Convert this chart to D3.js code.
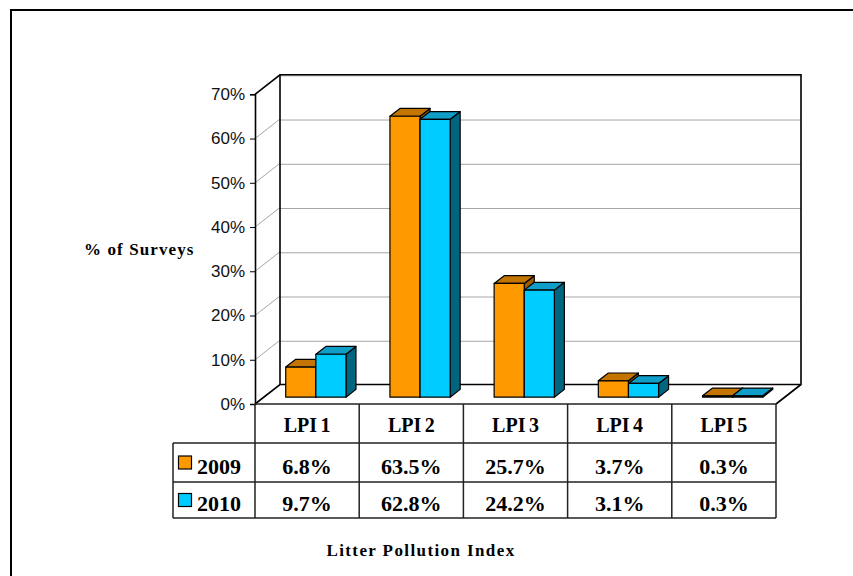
<!DOCTYPE html>
<html>
<head>
<meta charset="utf-8">
<script src="https://cdn.jsdelivr.net/npm/d3@7"></script>
<style>
  body { margin: 0; background: #fff; }
</style>
</head>
<body>
<div class="chart"></div>
<script>
// data
var categories = ['LPI 1', 'LPI 2', 'LPI 3', 'LPI 4', 'LPI 5'];
var seriesNames = ['2009', '2010'];
var values2009 = [6.8, 63.5, 25.7, 3.7, 0.3];
var values2010 = [9.7, 62.8, 24.2, 3.1, 0.3];
var yTicks = [0, 10, 20, 30, 40, 50, 60, 70];

var seriesValues = [values2009, values2010];
var front = ['#ff9900', '#00ccff'];
var topCol = ['#c47400', '#109ec8'];
var sideCol = ['#9c5c00', '#006680'];

var W = 853, H = 576;

// 3d depth of the plot box
var DX = 25, DY = -19.5;
var barF = 0.35, barB = 0.75;   // bar front / back depth fraction

var svg = d3.select('.chart')
  .append('svg')
    .attr('width', W)
    .attr('height', H);

// outer border (cut off at right/bottom)
svg.append('rect')
  .attr('x', 11).attr('y', 10)
  .attr('width', 900).attr('height', 700)
  .style('fill', 'none')
  .style('stroke', '#000')
  .style('stroke-width', 2);

var x0 = d3.scaleBand()
  .domain(categories)
  .range([255, 776]);

var x1 = d3.scaleBand()
  .domain(seriesNames)
  .range([0, x0.bandwidth()])
  .paddingOuter(0.73);

var y = d3.scaleLinear()
  .domain([0, 70])
  .range([404, 94.3]);

var left = x0.range()[0], right = x0.range()[1];

// back wall
svg.append('rect')
  .attr('x', left + DX).attr('y', y(70) + DY)
  .attr('width', right - left).attr('height', y(0) - y(70))
  .style('fill', '#fff');

// gridlines: back wall + side wall
var grid = svg.append('g').style('stroke', '#a6a6a6').style('stroke-width', 1);
grid.selectAll('.gb')
  .data(yTicks.slice(1))
  .enter().append('line')
    .attr('x1', left + DX).attr('x2', right + DX)
    .attr('y1', function(d) { return y(d) + DY + 1; })
    .attr('y2', function(d) { return y(d) + DY + 1; });
grid.selectAll('.gs')
  .data(yTicks.slice(1, -1))
  .enter().append('line')
    .attr('x1', left).attr('x2', left + DX)
    .attr('y1', function(d) { return y(d); })
    .attr('y2', function(d) { return y(d) + DY; });

// wall / floor edges
var edges = svg.append('g').style('stroke', '#000').style('stroke-width', 1.6).style('fill', 'none');
edges.append('path')
  .attr('d', d3.line()([
    [left, y(70)], [left + DX, y(70) + DY], [right + DX, y(70) + DY],
    [right + DX, y(0) + DY], [right, y(0)]
  ]));
edges.append('path')
  .attr('d', d3.line()([
    [left, y(0)], [left + DX, y(0) + DY], [right + DX, y(0) + DY]
  ]));
edges.append('path')
  .attr('d', d3.line()([[left + DX, y(70) + DY], [left + DX, y(0) + DY]]));

// left axis
var yAxis = d3.axisLeft(y)
  .tickValues(yTicks)
  .tickSize(5)
  .tickFormat(function(d) { return d + '%'; });
var ax = svg.append('g')
  .attr('transform', 'translate(' + left + ',0)')
  .call(yAxis);
ax.select('.domain').style('stroke-width', 1.6);
ax.selectAll('text')
  .style('font-family', '"Liberation Sans", Arial, sans-serif')
  .style('font-size', '17px')
  .style('fill', '#111')
  .attr('dx', '-2');

// bars
var bars = svg.append('g').style('stroke', '#000').style('stroke-width', 1.2).style('stroke-linejoin', 'round');
categories.forEach(function(c, i) {
  seriesNames.forEach(function(s, k) {
    var v = seriesValues[k][i];
    var fx = x0(c) + x1(s) + DX * barF;
    var w = x1.bandwidth();
    var fy0 = y(0) + DY * barF;
    var fy1 = y(v) + DY * barF;
    var ddx = DX * (barB - barF), ddy = DY * (barB - barF);
    var g = bars.append('g');
    g.append('path')
      .attr('d', d3.line()([[fx + w, fy0], [fx + w + ddx, fy0 + ddy], [fx + w + ddx, fy1 + ddy], [fx + w, fy1]]) + 'Z')
      .style('fill', sideCol[k]);
    g.append('path')
      .attr('d', d3.line()([[fx, fy1], [fx + ddx, fy1 + ddy], [fx + w + ddx, fy1 + ddy], [fx + w, fy1]]) + 'Z')
      .style('fill', topCol[k]);
    g.append('rect')
      .attr('x', fx).attr('y', fy1)
      .attr('width', w).attr('height', fy0 - fy1)
      .style('fill', front[k]);
  });
});

// data table
var rowY = [404, 443, 482, 518];
var legLeft = 173;
var tbl = svg.append('g').style('stroke', '#222').style('stroke-width', 1.5);
tbl.append('line')
  .attr('x1', left).attr('x2', right)
  .attr('y1', rowY[0]).attr('y2', rowY[0]);
tbl.selectAll('.h')
  .data(rowY.slice(1))
  .enter().append('line')
    .attr('x1', legLeft).attr('x2', right)
    .attr('y1', function(d) { return d; })
    .attr('y2', function(d) { return d; });
tbl.selectAll('.v')
  .data(categories.map(function(c) { return x0(c); }).concat([right]))
  .enter().append('line')
    .attr('x1', function(d) { return d; }).attr('x2', function(d) { return d; })
    .attr('y1', rowY[0]).attr('y2', rowY[3]);
tbl.append('line')
  .attr('x1', legLeft).attr('x2', legLeft)
  .attr('y1', rowY[1]).attr('y2', rowY[3]);

var serif = '"Liberation Serif", "Times New Roman", serif';

svg.selectAll('.cat')
  .data(categories)
  .enter().append('text')
    .attr('x', function(d) { return x0(d) + x0.bandwidth() / 2; })
    .attr('y', 432)
    .attr('text-anchor', 'middle')
    .style('font-family', serif)
    .style('font-weight', 'bold')
    .style('font-size', '20px')
    .style('word-spacing', '-1.5px')
    .text(function(d) { return d; });

var baseY = [474, 511];
seriesNames.forEach(function(s, k) {
  var cy = (rowY[k + 1] + rowY[k + 2]) / 2;
  svg.append('rect')
    .attr('x', 178.5).attr('y', cy - 6.5)
    .attr('width', 13).attr('height', 13)
    .style('fill', front[k])
    .style('stroke', '#000')
    .style('stroke-width', 1.2);
  svg.append('text')
    .attr('x', 197).attr('y', baseY[k])
    .style('font-family', serif)
    .style('font-weight', 'bold')
    .style('font-size', '22px')
    .text(s);
  svg.selectAll('.val' + k)
    .data(seriesValues[k])
    .enter().append('text')
      .attr('x', function(d, i) { return x0(categories[i]) + x0.bandwidth() / 2; })
      .attr('y', baseY[k])
      .attr('text-anchor', 'middle')
      .style('font-family', serif)
      .style('font-weight', 'bold')
      .style('font-size', '22px')
      .text(function(d) { return d.toFixed(1) + '%'; });
});

// axis titles
svg.append('text')
  .attr('x', 84).attr('y', 255)
  .style('font-family', serif)
  .style('font-weight', 'bold')
  .style('font-size', '17px')
  .style('letter-spacing', '1.1px')
  .text('% of Surveys');

svg.append('text')
  .attr('x', 421).attr('y', 556)
  .attr('text-anchor', 'middle')
  .style('font-family', serif)
  .style('font-weight', 'bold')
  .style('font-size', '17px')
  .style('letter-spacing', '1.4px')
  .text('Litter Pollution Index');
</script>
</body>
</html>
